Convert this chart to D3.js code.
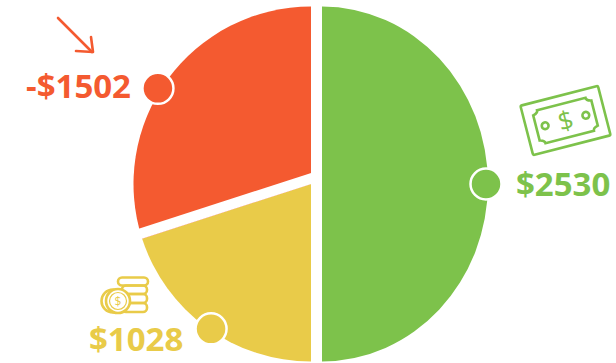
<!DOCTYPE html>
<html>
<head>
<meta charset="utf-8">
<script src="https://cdnjs.cloudflare.com/ajax/libs/d3/7.8.5/d3.min.js"></script>
<style>
  html, body { margin: 0; padding: 0; background: #fff; }
  svg { display: block; }
  text { font-family: "Open Sans", sans-serif; font-weight: 700; }
</style>
</head>
<body>
<svg id="chart" width="616" height="363"></svg>
<script>
// Budget split: income on the right half, spending and the shortfall on the left.
const categories = ["income", "savings", "shortfall"];
const amounts = [2530, 1028, 1502];
const valueLabels = ["$2530", "$1028", "-$1502"];
const colors = ["#7DC24B", "#E9CB49", "#F45A30"];
const markerAngles = [90, 214.6, 302];
const markerRadii = [164, 176, 180.5];

const W = 616, H = 363;
const cy = 184, radius = 177.5;
const leftCx = 311, rightCx = 322, rightRx = 166;
const gap = 10.5;
const edgeNudge = -1.1;   // degrees, tilts the divider slightly

const svg = d3.select("#chart").attr("viewBox", `0 0 ${W} ${H}`);

const rad = d3.scaleLinear().domain([0, 360]).range([0, 2 * Math.PI]);
const pie = d3.pie().sort(null).value(d => d)(amounts);
const edge = pie[2].startAngle + rad(edgeNudge);
pie[1].endAngle = edge;
pie[2].startAngle = edge;

const arc = d3.arc().innerRadius(0).outerRadius(radius);

// Right half is drawn narrower, offset across the vertical gap.
const sliceTransform = i => i === 0
  ? `translate(${rightCx},${cy}) scale(${rightRx / radius},1)`
  : `translate(${leftCx},${cy})`;

svg.append("g").selectAll("path").data(pie).join("path")
  .attr("d", arc)
  .attr("fill", (d, i) => colors[i])
  .attr("transform", (d, i) => sliceTransform(i));

// White divider between the two left slices, running along their shared edge.
const ux = Math.sin(edge), uy = -Math.cos(edge);
const nx = -uy, ny = ux;              // normal pointing into the upper slice
const sign = ny < 0 ? 1 : -1;
const ox = leftCx + sign * nx * gap / 2, oy = cy + sign * ny * gap / 2;
svg.append("line")
  .attr("x1", ox - ux * 6).attr("y1", oy - uy * 6)
  .attr("x2", ox + ux * (radius + 14)).attr("y2", oy + uy * (radius + 14))
  .attr("stroke", "#fff").attr("stroke-width", gap);

// Ring markers on the rim of each slice.
const markerPos = i => {
  const a = rad(markerAngles[i]);
  const c = i === 0 ? rightCx : leftCx;
  return [c + Math.sin(a) * markerRadii[i], cy - Math.cos(a) * markerRadii[i]];
};
svg.append("g").selectAll("circle").data(amounts).join("circle")
  .attr("cx", (d, i) => markerPos(i)[0])
  .attr("cy", (d, i) => markerPos(i)[1])
  .attr("r", 15.5)
  .attr("fill", (d, i) => colors[i])
  .attr("stroke", "#fff").attr("stroke-width", 2.5);

// Value labels.
const labelAttrs = [
  { x: 516, y: 196, anchor: "start" },
  { x: 89, y: 351, anchor: "start" },
  { x: 131, y: 98, anchor: "end" }
];
svg.append("g").selectAll("text").data(valueLabels).join("text")
  .attr("x", (d, i) => labelAttrs[i].x)
  .attr("y", (d, i) => labelAttrs[i].y)
  .attr("text-anchor", (d, i) => labelAttrs[i].anchor)
  .attr("font-size", 33)
  .attr("fill", (d, i) => colors[i])
  .text(d => d);

// Downward arrow beside the shortfall.
const arrow = svg.append("g").attr("fill", "none").attr("stroke", colors[2])
  .attr("stroke-width", 2.6).attr("stroke-linecap", "round").attr("stroke-linejoin", "round");
arrow.append("path").attr("d", "M58,18L92,52");
arrow.append("path").attr("d", "M76,51L93,52L91,37");

// Banknote icon.
const note = svg.append("g")
  .attr("transform", "translate(565.5,120.5) rotate(-14.4)")
  .attr("fill", "none").attr("stroke", colors[0]).attr("stroke-width", 2.6);
note.append("rect").attr("x", -40).attr("y", -25.5).attr("width", 80).attr("height", 51).attr("rx", 1.5);
note.append("path").attr("d", "M-25,-17H25Q25,-14 30,-13V13Q25,14 25,17H-25Q-25,14 -30,13V-13Q-25,-14 -25,-17Z");
note.append("circle").attr("cx", -21).attr("cy", 0).attr("r", 3.4);
note.append("circle").attr("cx", 21).attr("cy", 0).attr("r", 3.4);
note.append("text").attr("x", 0).attr("y", 9.5).attr("text-anchor", "middle")
  .attr("font-size", 26).attr("fill", colors[0]).attr("stroke", "none")
  .style("font-weight", 400).text("$");

// Coin stack icon.
const coins = svg.append("g").attr("fill", "none").attr("stroke", colors[1]).attr("stroke-width", 2.6);
[[277.5, 8], [285.5, 8.5], [294, 9], [303, 9]].forEach(([y, h], i) => {
  coins.append("rect").attr("x", i === 0 ? 118 : 122).attr("y", y)
    .attr("width", i === 0 ? 30 : 25).attr("height", h).attr("rx", 4);
});
coins.append("circle").attr("cx", 113).attr("cy", 301).attr("r", 11.5).attr("fill", "#fff");
coins.append("circle").attr("cx", 118).attr("cy", 301).attr("r", 12).attr("fill", "#fff");
coins.append("circle").attr("cx", 118).attr("cy", 301).attr("r", 8.5).attr("stroke-width", 1.2);
coins.append("text").attr("x", 118).attr("y", 305.5).attr("text-anchor", "middle")
  .attr("font-size", 12).attr("fill", colors[1]).attr("stroke", "none")
  .style("font-weight", 400).text("$");
</script>
</body>
</html>
